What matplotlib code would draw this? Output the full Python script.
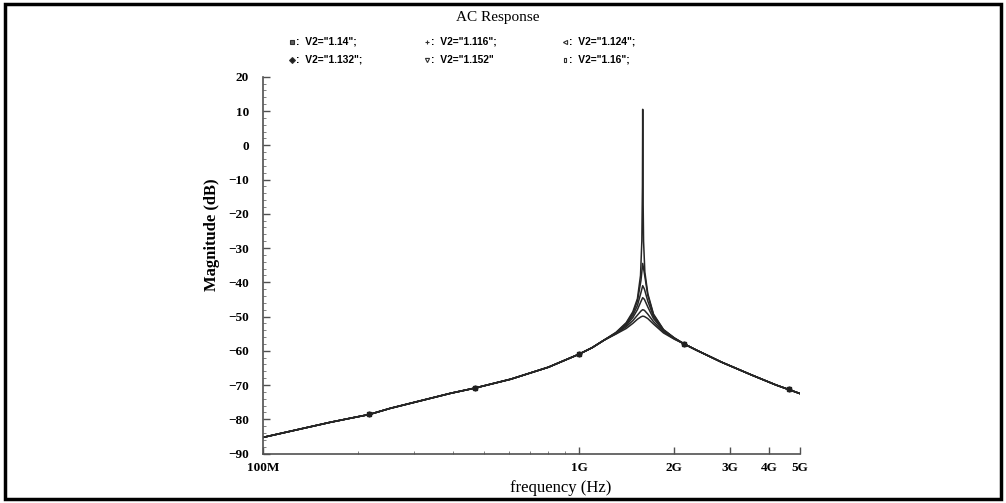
import numpy as np
import matplotlib.pyplot as plt
from matplotlib.lines import Line2D
from matplotlib.patches import Rectangle
from matplotlib.ticker import FixedLocator, MultipleLocator

# common low-frequency part (all curves overlap here)
lo_freq = [1.0e8, 1.63e8, 1.89e8, 2.17e8, 2.53e8, 3.93e8, 4.68e8, 6.08e8, 8.0e8, 1.0e9, 1.1e9, 1.2e9]
lo_db = [-85.3, -80.9, -79.7, -78.6, -76.8, -72.4, -70.9, -68.3, -64.8, -61.0, -59.1, -56.9]

# common high-frequency part
hi_freq = [2.15e9, 2.35e9, 2.82e9, 3.5e9, 4.2e9, 4.6e9, 5.0e9]
hi_db = [-58.0, -59.8, -63.3, -67.0, -70.0, -71.3, -72.5]

# resonance region, one list per curve
pk_freq = [1.31e9, 1.41e9, 1.48e9, 1.53e9, 1.57e9, 1.59e9, 1.61e9, 1.65e9, 1.72e9, 1.85e9, 2.0e9]
pk_db_1132 = [-54.8, -52.3, -49.6, -46.8, -43.0, -41.0, -42.0, -45.5, -50.0, -54.0, -56.3]
pk_db_1152 = [-54.9, -52.6, -50.3, -48.0, -45.6, -44.5, -45.0, -47.2, -50.6, -54.2, -56.4]
pk_db_1160 = [-55.0, -53.0, -51.2, -49.6, -48.4, -48.0, -48.2, -49.3, -51.5, -54.5, -56.5]
pk_db_1124 = [-54.7, -52.0, -49.0, -45.5, -39.5, -34.5, -37.5, -43.8, -49.5, -53.9, -56.3]
pk_db_1116 = [-55.1, -53.5, -52.0, -50.8, -50.1, -49.9, -50.0, -50.6, -52.2, -54.8, -56.6]

# the sharp one has its own, finer sampling
sharp_freq = [1.31e9, 1.41e9, 1.48e9, 1.53e9, 1.565e9, 1.58e9, 1.587e9, 1.59e9,
              1.593e9, 1.60e9, 1.615e9, 1.65e9, 1.72e9, 1.85e9, 2.0e9]
sharp_db = [-54.6, -51.8, -48.6, -44.8, -38.0, -28.0, -12.0, 10.5,
            -12.0, -28.0, -37.0, -43.3, -49.3, -53.8, -56.2]

labels = ['V2="1.14";', 'V2="1.116";', 'V2="1.124";',
          'V2="1.132";', 'V2="1.152"', 'V2="1.16";']
tall_box = [(-0.55, -1), (0.55, -1), (0.55, 1), (-0.55, 1), (-0.55, -1)]
markers = ['s', '+', '<', 'D', 'v', tall_box]
marker_fill = ['#606060', '#202020', 'none', '#202020', 'none', 'none']
peak_freqs = [sharp_freq, pk_freq, pk_freq, pk_freq, pk_freq, pk_freq]
peak_dbs = [sharp_db, pk_db_1116, pk_db_1124, pk_db_1132, pk_db_1152, pk_db_1160]

fig = plt.figure(figsize=(10.06, 5.03), dpi=100)
ax = fig.add_axes([0.2614, 0.0984, 0.5338, 0.749])

for mk, pf, pd in zip(markers, peak_freqs, peak_dbs):
    f = np.array(lo_freq + pf + hi_freq)
    d = np.array(lo_db + pd + hi_db)
    ax.plot(f, d, color='#262626', lw=1.1)
    idx = [3, 6, 9, len(f) - 7, len(f) - 2]
    ax.plot(f[idx], d[idx], linestyle='none', marker=mk, ms=2.5,
            color='#202020', mfc='#202020')

ax.set_xscale('log')
ax.set_xlim(1e8, 5e9)
ax.set_ylim(-90, 20)

ax.xaxis.set_major_locator(FixedLocator([1e8, 1e9, 2e9, 3e9, 4e9, 5e9]))
ax.set_xticklabels(['100M', '1G', '2G', '3G', '4G', '5G'])
ax.xaxis.set_minor_locator(FixedLocator([2e8, 3e8, 4e8, 5e8, 6e8, 7e8, 8e8, 9e8]))
ax.yaxis.set_major_locator(MultipleLocator(10))
ax.yaxis.set_minor_locator(MultipleLocator(2))

for s in ['top', 'right']:
    ax.spines[s].set_visible(False)
for s in ['left', 'bottom']:
    ax.spines[s].set_linewidth(1.2)
    ax.spines[s].set_color('#505050')

ax.tick_params(which='major', direction='in', length=5, width=1, colors='#505050',
               labelcolor='black')
ax.tick_params(which='minor', direction='in', length=2.5, width=0.7, colors='#808080')
ax.tick_params(axis='x', which='major', pad=6)
ax.tick_params(axis='y', which='major', pad=10)
for t in ax.get_xticklabels() + ax.get_yticklabels():
    t.set_fontfamily('Liberation Serif')
    t.set_fontweight('bold')
    t.set_fontsize(9.5)

ax.set_xlabel('frequency (Hz)', fontfamily='Liberation Serif', fontsize=12)
ax.xaxis.set_label_coords(0.555, -0.07)
ax.set_ylabel('Magnitude (dB)', fontfamily='Liberation Serif', fontsize=12,
              fontweight='bold')
ax.yaxis.set_label_coords(-0.08, 0.58)

fig.text(0.495, 0.966, 'AC Response', ha='center', va='center',
         fontfamily='Liberation Serif', fontsize=11)

# legend as a 3 x 2 grid of "marker: label"
col_x = [292, 427, 565]
row_y = [42, 60]
for i, (lab, mk, mf) in enumerate(zip(labels, markers, marker_fill)):
    cx = col_x[i % 3] / 1006
    cy = 1 - row_y[i // 3] / 503
    fig.add_artist(Line2D([cx], [cy], transform=fig.transFigure, linestyle='none',
                          marker=mk, ms=3, color='#303030', mfc=mf, mew=0.8))
    fig.text(cx + 4 / 1006, cy, ':  ' + lab, ha='left', va='center',
             fontfamily='Liberation Sans', fontweight='bold', fontsize=7.4)

fig.patches.append(Rectangle((5 / 1006, 4 / 503), 996 / 1006, 495 / 503,
                             transform=fig.transFigure, fill=False,
                             lw=2.5, ec='black'))

fig.savefig('out.png', dpi=100)
